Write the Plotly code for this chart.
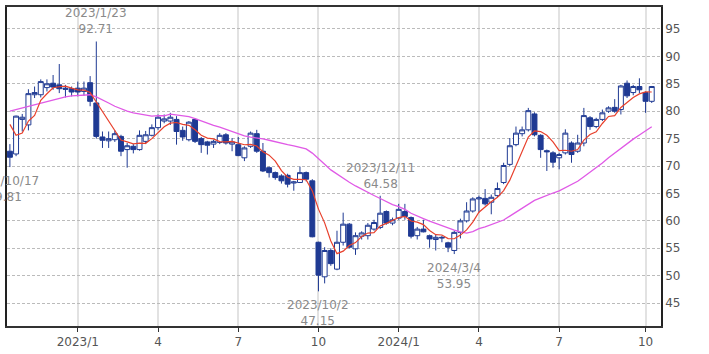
import numpy as np
import pandas as pd
import plotly.graph_objects as go

# ---- data (weekly) ----
start_date = "2022-10-17"
opens = [72.7, 72.2, 78.5, 77.5, 83.0, 83.0, 84.3, 85.1, 84.8, 84.2, 84.1, 84.2, 83.6, 85.2, 81.5,
         75.3, 74.6, 74.8, 75.4, 73.0, 73.6, 73.0, 74.5, 75.6, 77.0, 78.2, 78.2, 78.5, 76.5, 74.8,
         78.5, 75.0, 74.4, 74.0, 74.3, 75.7, 74.0, 73.9, 71.5, 73.6, 75.9, 72.7, 69.7, 68.8, 68.2,
         68.3, 66.9, 67.0, 68.8, 67.3, 56.1, 49.8, 54.6, 51.2, 56.1, 59.4, 54.9, 57.2, 57.3, 58.5,
         58.8, 61.7, 59.6, 60.5, 61.7, 60.6, 57.3, 58.5, 57.3, 56.6, 57.0, 56.0, 54.6, 57.9, 60.0,
         61.8, 64.0, 64.1, 63.4, 64.6, 67.0, 70.3, 73.9, 75.9, 76.6, 79.5, 75.6, 72.8, 72.4, 71.5,
         72.4, 74.2, 72.7, 74.2, 78.8, 77.2, 78.5, 80.0, 80.7, 80.3, 85.1, 83.4, 84.5, 83.4, 81.8]
highs = [74.0, 79.2, 79.5, 84.0, 84.5, 85.8, 85.8, 86.6, 88.6, 84.8, 84.5, 85.4, 85.4, 86.4, 92.71,
         76.3, 76.3, 76.5, 75.7, 74.2, 74.0, 76.5, 76.4, 77.6, 79.4, 79.4, 79.7, 79.1, 77.2, 78.2,
         78.7, 75.3, 74.6, 74.8, 76.0, 76.0, 75.1, 75.3, 73.6, 76.3, 76.6, 74.2, 69.9, 69.0, 68.5,
         68.6, 67.3, 69.9, 69.0, 67.6, 56.2, 55.2, 55.0, 58.2, 61.5, 59.6, 57.9, 58.1, 59.6, 60.2,
         64.58, 61.9, 60.6, 63.1, 63.1, 60.8, 58.9, 60.2, 57.5, 57.5, 57.3, 56.2, 58.2, 60.4, 63.4,
         64.3, 64.6, 65.8, 64.8, 67.0, 70.6, 75.1, 77.2, 77.2, 80.6, 79.8, 75.8, 73.0, 72.7, 72.4,
         76.7, 74.5, 75.7, 80.6, 79.1, 78.8, 80.3, 80.9, 82.2, 84.8, 85.6, 84.8, 86.0, 83.6, 84.6]
lows = [69.81, 71.8, 76.3, 76.5, 82.4, 82.5, 83.6, 83.9, 83.3, 82.5, 82.7, 82.7, 82.8, 80.9, 75.0,
        73.3, 73.3, 74.4, 71.8, 69.7, 72.3, 72.8, 74.0, 75.4, 76.6, 77.8, 77.5, 73.9, 74.6, 74.5,
        74.2, 72.4, 72.1, 73.3, 74.0, 73.9, 72.7, 71.8, 70.9, 73.3, 72.4, 68.9, 67.9, 67.5, 66.8,
        66.1, 65.5, 66.9, 67.2, 57.0, 47.15, 48.6, 51.8, 51.0, 55.5, 55.0, 53.8, 56.6, 56.6, 58.2,
        58.5, 59.3, 59.2, 60.2, 60.2, 56.8, 56.6, 57.9, 55.1, 54.6, 56.1, 54.3, 53.95, 56.8, 59.7,
        61.5, 61.5, 62.8, 61.2, 64.3, 66.7, 70.0, 73.6, 75.4, 76.3, 75.4, 71.5, 69.1, 69.7, 69.4,
        72.1, 70.6, 72.4, 73.6, 76.6, 76.9, 78.2, 79.7, 79.7, 79.4, 82.4, 82.9, 83.3, 79.7, 81.5]
closes = [71.6, 79.1, 78.9, 83.2, 83.4, 85.4, 85.0, 84.4, 84.1, 84.0, 83.5, 83.5, 84.2, 81.8, 75.4,
          74.7, 75.0, 75.9, 72.7, 73.7, 73.0, 75.6, 75.7, 77.0, 78.9, 78.6, 78.9, 76.3, 75.3, 78.0,
          74.5, 73.9, 73.8, 74.5, 75.6, 74.2, 74.4, 71.9, 73.3, 76.0, 72.7, 69.1, 68.8, 67.9, 67.3,
          66.7, 67.1, 68.8, 67.6, 57.1, 50.1, 54.6, 52.2, 56.1, 59.4, 55.2, 57.3, 57.8, 59.2, 59.7,
          61.4, 59.6, 60.2, 62.1, 60.8, 57.2, 58.5, 58.0, 56.7, 57.0, 56.9, 55.2, 57.9, 60.0, 61.8,
          64.0, 64.2, 63.1, 64.3, 65.9, 70.1, 73.7, 76.0, 76.6, 80.1, 75.7, 73.0, 72.6, 70.7, 72.1,
          76.0, 72.1, 74.2, 79.2, 77.2, 78.5, 79.7, 80.6, 80.0, 84.6, 82.8, 84.5, 83.9, 81.8, 84.5]

# moving-average values at the first weeks (need history before the chart starts)
ma5_head = [77.6, 75.6, 76.0, 78.2]
ma26_head = [80.0, 80.3, 80.6, 80.9, 81.2, 81.5, 81.8, 82.1, 82.4, 82.6, 82.8, 82.9, 83.0,
             83.0, 82.6, 82.1, 81.5, 80.9, 80.4, 80.0, 79.7, 79.5, 79.2, 79.1, 79.2]

tick_months = [1, 4, 7, 10]
tick_labels = ["2023/1", "4", "7", "10", "2024/1", "4", "7", "10"]

# annotated extremes: (week index, "high"/"low")
marked = [(0, "low"), (14, "high"), (50, "low"), (60, "high"), (72, "low")]

# ---- derived ----
n = len(closes)
dates = pd.date_range(start_date, periods=n, freq="W-MON")
xi = np.arange(n)
cs = pd.Series(closes)
ma5 = cs.rolling(5).mean().to_numpy()
ma5[:len(ma5_head)] = ma5_head
ma26 = cs.rolling(26).mean().to_numpy()
ma26[:len(ma26_head)] = ma26_head

tickvals = [int(i) for i in xi if dates[i].month in tick_months and dates[i].day <= 7]

navy = "#1f3a93"
fig = go.Figure()
fig.add_trace(go.Candlestick(
    x=xi, open=opens, high=highs, low=lows, close=closes,
    increasing=dict(line=dict(color=navy, width=1), fillcolor="white"),
    decreasing=dict(line=dict(color=navy, width=1), fillcolor=navy),
    whiskerwidth=0, hoverinfo="skip", showlegend=False))
fig.add_trace(go.Scatter(x=xi, y=ma26, mode="lines", line=dict(color="#e05ae6", width=1.3),
                         hoverinfo="skip", showlegend=False))
fig.add_trace(go.Scatter(x=xi, y=ma5, mode="lines", line=dict(color="#e8402c", width=1.2),
                         hoverinfo="skip", showlegend=False))

ann = []
for i, kind in marked:
    d = dates[i]
    val = highs[i] if kind == "high" else lows[i]
    ann.append(dict(
        x=i, y=val, xref="x", yref="y", showarrow=False,
        text=f"{d.year}/{d.month}/{d.day}<br>{val:.2f}",
        yanchor="bottom" if kind == "high" else "top",
        yshift=3 if kind == "high" else -5,
        xshift=-5 if i == 0 else 0,
        font=dict(family="DejaVu Sans", size=12, color="#8a8a8a")))

fig.update_layout(
    width=709, height=354,
    margin=dict(l=5, r=48, t=5, b=28),
    paper_bgcolor="white", plot_bgcolor="white",
    boxgap=0.2, boxgroupgap=0,
    annotations=ann,
    font=dict(family="DejaVu Sans", size=12, color="#555555"),
    xaxis=dict(range=[-0.47, 105.5], tickmode="array", tickvals=tickvals, ticktext=tick_labels,
               showgrid=True, gridcolor="#e2e2e2", gridwidth=1.5, zeroline=False,
               showline=True, linecolor="#333333", linewidth=1.5, mirror=True,
               ticks="outside", ticklen=4, tickcolor="#333333",
               rangeslider=dict(visible=False), fixedrange=True),
    yaxis=dict(side="right", range=[40.83, 99.0],
               tickvals=[45, 50, 55, 60, 65, 70, 75, 80, 85, 90, 95],
               showgrid=True, gridcolor="#bbbbbb", griddash="3px,2px", gridwidth=1,
               zeroline=False, showline=True, linecolor="#222222", linewidth=1.5, mirror=True,
               ticks="", fixedrange=True),
)

fig.write_html("out.html")
